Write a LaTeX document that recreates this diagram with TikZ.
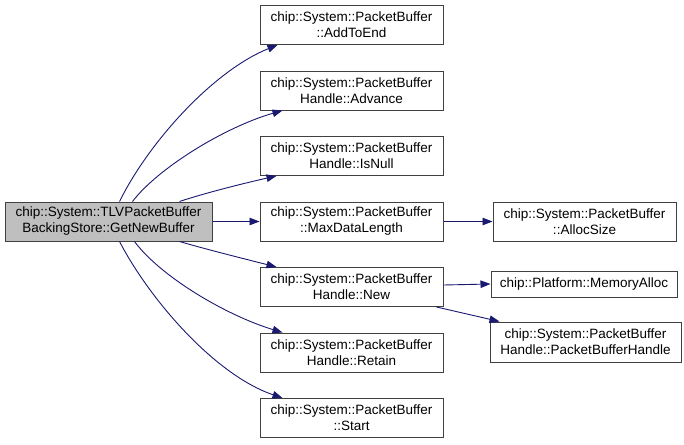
\documentclass[tikz,border=0pt]{standalone}
\usepackage{fontspec}
\setmainfont{Liberation Sans}
\usetikzlibrary{arrows.meta}
\definecolor{edgeblue}{HTML}{191970}
\definecolor{nodeborder}{HTML}{404040}
\definecolor{rootfill}{HTML}{BFBFBF}
\begin{document}
\begin{tikzpicture}[x=1pt,y=-1pt,
  fn/.style={draw=nodeborder, line width=1pt, fill=white, inner sep=0pt, align=center,
    font=\fontsize{13.5}{16}\selectfont, minimum height=39pt, minimum width=183pt},
  call/.style={draw=edgeblue, line width=0.9pt, -{Triangle[length=10pt,width=7.5pt]}}
]
\useasboundingbox (0,0) rectangle (684,444);
\node[fn, minimum width=207pt, fill=rootfill] (root) at (108.5,221.5) {chip::System::TLVPacketBuffer\\BackingStore::GetNewBuffer};
\node[fn] (addtoend) at (351.5,25) {chip::System::PacketBuffer\\::AddToEnd};
\node[fn] (advance) at (351.5,90.5) {chip::System::PacketBuffer\\Handle::Advance};
\node[fn] (isnull) at (351.5,156) {chip::System::PacketBuffer\\Handle::IsNull};
\node[fn] (maxlen) at (351.5,221.5) {chip::System::PacketBuffer\\::MaxDataLength};
\node[fn] (new) at (351.5,287) {chip::System::PacketBuffer\\Handle::New};
\node[fn] (retain) at (351.5,352.5) {chip::System::PacketBuffer\\Handle::Retain};
\node[fn] (start) at (351.5,418) {chip::System::PacketBuffer\\::Start};
\node[fn] (allocsize) at (584.5,221.5) {chip::System::PacketBuffer\\::AllocSize};
\node[fn, minimum width=186pt, minimum height=26pt] (memalloc) at (584,284) {chip::Platform::MemoryAlloc};
\node[fn, minimum width=191pt, minimum height=40pt] (pbh) at (585.5,342) {chip::System::PacketBuffer\\Handle::PacketBufferHandle};

\draw[call] ([xshift=115pt]root.north west) .. controls (150,140) and (215,70) .. ([xshift=18pt]addtoend.south west);
\draw[call] ([xshift=128pt]root.north west) .. controls (158,168) and (225,127) .. ([xshift=23pt]advance.south west);
\draw[call] ([xshift=175pt]root.north west) .. controls (205,193) and (245,183) .. ([xshift=17pt]isnull.south west);
\draw[call] (root.east) -- (maxlen.west);
\draw[call] ([xshift=175pt]root.south west) .. controls (205,249) and (245,259) .. ([xshift=17pt]new.north west);
\draw[call] ([xshift=130pt]root.south west) .. controls (160,276) and (225,315) .. ([xshift=23pt]retain.north west);
\draw[call] ([xshift=115pt]root.south west) .. controls (150,300) and (215,375) .. ([xshift=23pt]start.north west);
\draw[call] (maxlen.east) -- (allocsize.west);
\draw[call] ([yshift=2pt]new.east) -- (memalloc.west);
\draw[call] ([xshift=-7pt]new.south east) -- ([xshift=10pt]pbh.north west);
\end{tikzpicture}
\end{document}
